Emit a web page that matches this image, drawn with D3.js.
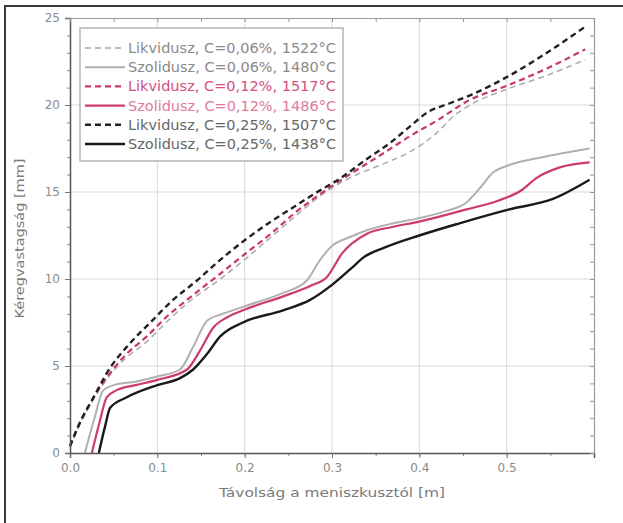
<!DOCTYPE html>
<html>
<head>
<meta charset="utf-8">
<script src="https://cdn.jsdelivr.net/npm/d3@7"></script>
<style>
  html, body { margin: 0; padding: 0; background: #fff; }
  svg { display: block; font-family: "DejaVu Sans", "Liberation Sans", Arial, sans-serif; }
</style>
</head>
<body>
<svg id="chart" width="623" height="523"></svg>
<script>
// Shell thickness along the strand for three carbon contents (liquidus / solidus fronts)
const xTicks = [0.0, 0.1, 0.2, 0.3, 0.4, 0.5];
const yTicks = [0, 5, 10, 15, 20, 25];

const liq006X = [0, 0.01, 0.027, 0.046, 0.065, 0.088, 0.11, 0.134, 0.172, 0.202, 0.23, 0.26, 0.29, 0.32, 0.358, 0.389, 0.42, 0.44, 0.458, 0.5, 0.546, 0.59];
const liq006Y = [0.3, 1.5, 3.1, 4.5, 5.5, 6.4, 7.5, 8.6, 10.0, 11.2, 12.4, 13.7, 14.9, 15.8, 16.6, 17.3, 18.4, 19.4, 20.0, 20.9, 21.7, 22.6];

const sol006X = [0.017, 0.028, 0.038, 0.05, 0.075, 0.1, 0.126, 0.141, 0.157, 0.175, 0.198, 0.244, 0.271, 0.285, 0.30, 0.32, 0.34, 0.37, 0.40, 0.43, 0.454, 0.469, 0.484, 0.503, 0.541, 0.595];
const sol006Y = [0, 2.0, 3.6, 3.9, 4.1, 4.4, 4.8, 6.1, 7.6, 8.0, 8.4, 9.2, 9.9, 11.0, 11.9, 12.4, 12.8, 13.2, 13.5, 13.9, 14.4, 15.2, 16.1, 16.55, 17.0, 17.5];

const liq012X = [0, 0.01, 0.027, 0.046, 0.065, 0.088, 0.11, 0.134, 0.172, 0.202, 0.23, 0.26, 0.29, 0.32, 0.358, 0.389, 0.42, 0.458, 0.5, 0.546, 0.59];
const liq012Y = [0.4, 1.6, 3.2, 4.6, 5.7, 6.7, 7.8, 8.8, 10.3, 11.5, 12.6, 13.9, 15.0, 16.0, 17.2, 18.2, 19.1, 20.3, 21.1, 22.1, 23.2];

const sol012X = [0.025, 0.034, 0.042, 0.053, 0.075, 0.1, 0.134, 0.149, 0.164, 0.18, 0.198, 0.244, 0.275, 0.294, 0.312, 0.34, 0.37, 0.40, 0.454, 0.49, 0.517, 0.534, 0.56, 0.595];
const sol012Y = [0, 1.8, 3.2, 3.6, 3.9, 4.2, 4.8, 5.9, 7.2, 7.8, 8.2, 9.0, 9.6, 10.1, 11.5, 12.6, 13.0, 13.3, 14.0, 14.5, 15.1, 15.8, 16.4, 16.7];

const liq025X = [0, 0.01, 0.027, 0.046, 0.065, 0.092, 0.118, 0.145, 0.172, 0.202, 0.23, 0.255, 0.28, 0.31, 0.34, 0.366, 0.39, 0.41, 0.435, 0.46, 0.5, 0.546, 0.59];
const liq025Y = [0.4, 1.6, 3.2, 4.9, 6.1, 7.5, 8.8, 9.9, 11.1, 12.3, 13.3, 14.1, 14.9, 15.8, 16.9, 17.8, 18.8, 19.6, 20.1, 20.6, 21.6, 23.0, 24.5];

const sol025X = [0.033, 0.04, 0.046, 0.065, 0.1, 0.126, 0.141, 0.157, 0.172, 0.198, 0.244, 0.275, 0.30, 0.324, 0.335, 0.36, 0.40, 0.446, 0.503, 0.553, 0.595];
const sol025Y = [0, 1.5, 2.6, 3.2, 3.9, 4.3, 4.8, 5.7, 6.7, 7.5, 8.2, 8.8, 9.66, 10.7, 11.2, 11.8, 12.5, 13.2, 14.0, 14.6, 15.7];

const seriesLabels = [
  "Likvidusz, C=0,06%, 1522°C",
  "Szolidusz, C=0,06%, 1480°C",
  "Likvidusz, C=0,12%, 1517°C",
  "Szolidusz, C=0,12%, 1486°C",
  "Likvidusz, C=0,25%, 1507°C",
  "Szolidusz, C=0,25%, 1438°C"
];

const series = [
  { name: seriesLabels[0], xs: liq006X, ys: liq006Y, color: "#a9a9a9", width: 1.5, dash: "6,4", text: "#8a8a8a" },
  { name: seriesLabels[1], xs: sol006X, ys: sol006Y, color: "#b0b0b0", width: 2, dash: null, text: "#8a8a8a" },
  { name: seriesLabels[2], xs: liq012X, ys: liq012Y, color: "#c8386a", width: 2.2, dash: "6,4", text: "#d2507e" },
  { name: seriesLabels[3], xs: sol012X, ys: sol012Y, color: "#cc3a70", width: 2.2, dash: null, text: "#e07a9c" },
  { name: seriesLabels[4], xs: liq025X, ys: liq025Y, color: "#222222", width: 2.4, dash: "6,4", text: "#666666" },
  { name: seriesLabels[5], xs: sol025X, ys: sol025Y, color: "#1a1a1a", width: 2.4, dash: null, text: "#666666" }
];

const svg = d3.select("#chart");
const margin = { left: 70, right: 29, top: 18, bottom: 70 };
const W = 623, H = 523;
const x = d3.scaleLinear().domain([0, 0.6]).range([margin.left, W - margin.right]);
const y = d3.scaleLinear().domain([0, 25]).range([H - margin.bottom, margin.top]);

// outer frame
svg.append("rect").attr("x", 5).attr("y", 6).attr("width", 660).attr("height", 560)
  .attr("fill", "none").attr("stroke", "#3a3a3a").attr("stroke-width", 2);

// grid
const grid = svg.append("g");
grid.selectAll("line.v").data(xTicks.slice(1)).join("line")
  .attr("x1", d => x(d)).attr("x2", d => x(d))
  .attr("y1", y(0)).attr("y2", y(25))
  .attr("stroke", "#d9d9d9").attr("stroke-width", 1);
grid.selectAll("line.h").data(yTicks.slice(1, -1)).join("line")
  .attr("x1", x(0)).attr("x2", x(0.6))
  .attr("y1", d => y(d)).attr("y2", d => y(d))
  .attr("stroke", "#d9d9d9").attr("stroke-width", 1);

// curves
const line = d3.line().x(d => x(d[0])).y(d => y(d[1])).curve(d3.curveMonotoneX);
const plot = svg.append("g");
series.forEach(s => {
  const pts = s.xs.map((v, i) => [v, s.ys[i]]);
  plot.append("path").datum(pts)
    .attr("d", line)
    .attr("fill", "none")
    .attr("stroke", s.color)
    .attr("stroke-width", s.width)
    .attr("stroke-dasharray", s.dash)
    .attr("stroke-linejoin", "round");
});

// axes
const minorX = d3.range(0, 0.6001, 0.05);
const minorY = d3.range(0, 25.001, 1);
const axisStyle = g => {
  g.selectAll("text").attr("fill", "#8a8a8a").style("font-size", "12px")
    .style("font-family", "'DejaVu Sans', Arial, sans-serif");
};

svg.append("g").attr("transform", `translate(0,${y(0)})`)
  .call(d3.axisBottom(x).tickValues(minorX).tickSize(3).tickFormat(""))
  .call(g => g.select(".domain").remove())
  .selectAll("line").attr("stroke", "#888");
svg.append("g").attr("transform", `translate(0,${y(0)})`)
  .call(d3.axisBottom(x).tickValues(xTicks).tickSize(5).tickPadding(5).tickFormat(d3.format(".1f")))
  .call(g => g.select(".domain").attr("stroke", "#555").attr("stroke-width", 1.5))
  .call(g => g.selectAll("line").attr("stroke", "#777"))
  .call(axisStyle);

svg.append("g").attr("transform", `translate(0,${y(0)})`);
svg.append("g").attr("transform", `translate(${x(0)},0)`)
  .call(d3.axisLeft(y).tickValues(minorY).tickSize(3).tickFormat(""))
  .call(g => g.select(".domain").remove())
  .selectAll("line").attr("stroke", "#888");
svg.append("g").attr("transform", `translate(${x(0)},0)`)
  .call(d3.axisLeft(y).tickValues(yTicks).tickSize(5).tickPadding(5))
  .call(g => g.select(".domain").attr("stroke", "#555").attr("stroke-width", 1.5))
  .call(g => g.selectAll("line").attr("stroke", "#777"))
  .call(axisStyle);

svg.append("g").attr("transform", `translate(0,${y(25)})`)
  .call(d3.axisBottom(x).tickValues(minorX).tickSize(4).tickFormat(""))
  .call(g => g.select(".domain").attr("stroke", "#999").attr("stroke-width", 1.2))
  .selectAll("line").attr("stroke", "#999");
svg.append("g").attr("transform", `translate(${x(0.6)},0)`)
  .call(d3.axisLeft(y).tickValues(minorY).tickSize(4).tickFormat(""))
  .call(g => g.select(".domain").attr("stroke", "#999").attr("stroke-width", 1.2))
  .selectAll("line").attr("stroke", "#999");

// axis titles
svg.append("text").attr("x", (x(0) + x(0.6)) / 2).attr("y", 497)
  .attr("text-anchor", "middle").attr("fill", "#7a7a7a").style("font-size", "13px")
  .attr("textLength", 226).attr("lengthAdjust", "spacingAndGlyphs")
  .text("Távolság a meniszkusztól [m]");
svg.append("text").attr("transform", `translate(24,${(y(0) + y(25)) / 2 + 3}) rotate(-90)`)
  .attr("text-anchor", "middle").attr("fill", "#7a7a7a").style("font-size", "13px")
  .attr("textLength", 160).attr("lengthAdjust", "spacingAndGlyphs")
  .text("Kéregvastagság [mm]");

// legend
const lg = svg.append("g");
lg.append("rect").attr("x", 80).attr("y", 28).attr("width", 263).attr("height", 133)
  .attr("fill", "#fff").attr("stroke", "#b5b5b5").attr("stroke-width", 1.5);
series.forEach((s, i) => {
  const yy = 48 + i * 19.2;
  lg.append("line").attr("x1", 85).attr("x2", 125).attr("y1", yy).attr("y2", yy)
    .attr("stroke", s.color).attr("stroke-width", s.width).attr("stroke-dasharray", s.dash);
  lg.append("text").attr("x", 128).attr("y", yy + 5).attr("fill", s.text)
    .style("font-size", "13.5px")
    .attr("textLength", 208).attr("lengthAdjust", "spacingAndGlyphs")
    .text(s.name);
});
</script>
</body>
</html>
